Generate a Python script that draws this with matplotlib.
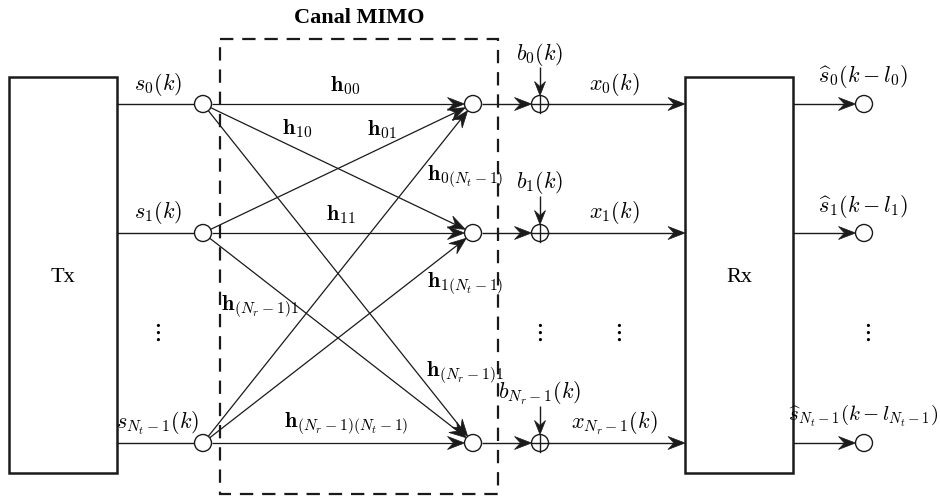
import numpy as np
import matplotlib.pyplot as plt
from matplotlib.patches import Rectangle, Circle, Polygon

plt.rcParams["mathtext.fontset"] = "cm"
plt.rcParams["font.family"] = "Liberation Serif"

# node rows (pixel y of the three branches)
rows = [104, 233, 443]
tx_labels = [r"$s_0(k)$", r"$s_1(k)$", r"$s_{N_t-1}(k)$"]
noise_labels = [r"$b_0(k)$", r"$b_1(k)$", r"$b_{N_r-1}(k)$"]
rx_in_labels = [r"$x_0(k)$", r"$x_1(k)$", r"$x_{N_r-1}(k)$"]
out_labels = [r"$\widehat{s}_0(k-l_0)$", r"$\widehat{s}_1(k-l_1)$",
              r"$\widehat{s}_{N_t-1}(k-l_{N_t-1})$"]

# channel coefficient labels with their positions
h_labels = [
    (r"$\mathbf{h}_{00}$", 345, 86),
    (r"$\mathbf{h}_{10}$", 297, 129),
    (r"$\mathbf{h}_{01}$", 382, 130),
    (r"$\mathbf{h}_{0(N_t-1)}$", 465, 177),
    (r"$\mathbf{h}_{11}$", 341, 215),
    (r"$\mathbf{h}_{(N_r-1)1}$", 260, 307),
    (r"$\mathbf{h}_{1(N_t-1)}$", 465, 284),
    (r"$\mathbf{h}_{(N_r-1)1}$", 465, 373),
    (r"$\mathbf{h}_{(N_r-1)(N_t-1)}$", 346, 424),
]

tx_node_x = 203
rx_node_x = 473
add_x = 540
out_x = 864
r_node = 8.5

fig = plt.figure(figsize=(9.4, 4.97), dpi=100)
ax = fig.add_axes([0, 0, 1, 1])
ax.set_xlim(0, 940)
ax.set_ylim(497, 0)
ax.axis("off")

lw = 1.0
k = "#1a1a1a"


def arrow(p0, p1, L=17, W=6.5, notch=6, lw=1.0):
    # straight line with a stealth-like head at p1
    p0 = np.asarray(p0, float)
    p1 = np.asarray(p1, float)
    u = (p1 - p0) / np.hypot(*(p1 - p0))
    n = np.array([-u[1], u[0]])
    base = p1 - u * L
    ax.plot([p0[0], base[0] + u[0] * notch], [p0[1], base[1] + u[1] * notch],
            color=k, lw=lw, solid_capstyle="butt")
    head = [p1, base + n * W, base + u * notch, base - n * W]
    ax.add_patch(Polygon(head, closed=True, fc=k, ec=k, lw=0.5, zorder=2))


# Tx / Rx boxes
ax.add_patch(Rectangle((9, 77), 108, 396, fill=False, ec=k, lw=1.8))
ax.add_patch(Rectangle((685, 77), 108, 396, fill=False, ec=k, lw=1.8))
ax.text(63, 277, "Tx", ha="center", va="center", fontsize=16)
ax.text(739, 277, "Rx", ha="center", va="center", fontsize=16)

# dashed channel box
ax.add_patch(Rectangle((220, 39), 278, 455, fill=False, ec=k, lw=1.6,
                       ls=(0, (6, 4))))
ax.text(359, 18, "Canal MIMO", ha="center", va="center", fontsize=16,
        fontweight="bold")

for i, y in enumerate(rows):
    # Tx output line and node
    ax.plot([117, tx_node_x - r_node], [y, y], color=k, lw=lw)
    ax.add_patch(Circle((tx_node_x, y), r_node, fill=True, fc="white", ec=k, lw=lw, zorder=3))
    ax.text(158, y - 20, tx_labels[i], ha="center", va="center", fontsize=16)

    # channel paths to every receive node
    for yj in rows:
        d = np.array([rx_node_x - tx_node_x, yj - y], dtype=float)
        u = d / np.hypot(*d)
        p0 = np.array([tx_node_x, y]) + u * r_node
        p1 = np.array([rx_node_x, yj]) - u * r_node
        arrow(p0, p1, lw=0.9)

for j, y in enumerate(rows):
    ax.add_patch(Circle((rx_node_x, y), r_node, fill=True, fc="white", ec=k, lw=lw, zorder=3))
    # to adder
    arrow((rx_node_x + r_node, y), (add_x - r_node, y))
    ax.add_patch(Circle((add_x, y), r_node, fill=True, fc="white", ec=k, lw=lw, zorder=3))
    ax.plot([add_x - r_node, add_x + r_node], [y, y], color=k, lw=lw, zorder=4)
    ax.plot([add_x, add_x], [y - r_node, y + r_node], color=k, lw=lw, zorder=4)
    # noise
    arrow((add_x, y - 37), (add_x, y - r_node), L=14, W=5.5, notch=5)
    ax.text(add_x, y - 50, noise_labels[j], ha="center", va="center", fontsize=16)
    # to Rx
    arrow((add_x + r_node, y), (685, y))
    ax.text(614, y - 20, rx_in_labels[j], ha="center", va="center", fontsize=16)
    # Rx outputs
    arrow((793, y), (out_x - r_node, y))
    ax.add_patch(Circle((out_x, y), r_node, fill=True, fc="white", ec=k, lw=lw, zorder=3))
    ax.text(out_x - 1, y - 27, out_labels[j], ha="center", va="center",
            fontsize=16 if j < 2 else 15)

for txt, x, y in h_labels:
    ax.text(x, y, txt, ha="center", va="center", fontsize=16)

# vertical ellipses
for x in [156, 538, 617, 866]:
    ax.text(x, 333, r"$\vdots$", ha="center", va="center", fontsize=18)

fig.savefig("out.png", dpi=100)
